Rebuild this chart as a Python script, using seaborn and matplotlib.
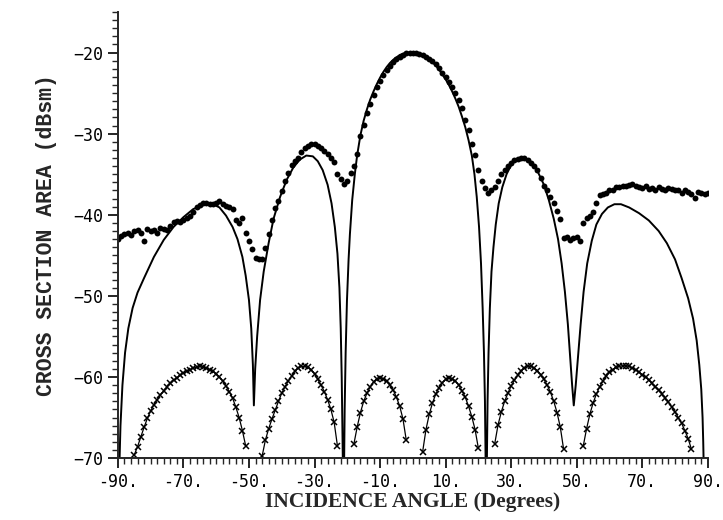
import numpy as np
import pandas as pd
import matplotlib
matplotlib.use("Agg")
import matplotlib.pyplot as plt
import seaborn as sns
from matplotlib.ticker import MultipleLocator

# measured RCS (dots), one point per degree from -90 to 90
angles = np.arange(-90, 91)
measured_db = [
    -43.0, -42.6, -42.4, -42.2, -42.5, -42.0, -41.9, -42.3, -43.2, -41.8,
    -42.0, -41.9, -42.2, -41.6, -41.7, -41.9, -41.4, -40.9, -40.8, -40.9,
    -40.6, -40.4, -40.2, -39.7, -39.1, -38.8, -38.6, -38.6, -38.7, -38.7,
    -38.5, -38.3, -38.7, -38.9, -39.1, -39.3, -40.7, -41.0, -40.4, -42.2,
    -43.2, -44.2, -45.3, -45.5, -45.4, -44.1, -42.4, -40.6, -39.2, -38.3,
    -37.1, -35.8, -34.8, -33.9, -33.4, -33.0, -32.3, -31.8, -31.5, -31.3,
    -31.3, -31.5, -31.8, -32.1, -32.5, -33.0, -33.5, -35.0, -35.6, -36.2,
    -35.8, -34.9, -34.0, -32.5, -30.3, -28.9, -27.5, -26.3, -25.2, -24.3,
    -23.5, -22.8, -22.2, -21.7, -21.2, -20.8, -20.5, -20.3, -20.1, -20.0,
    -20.0, -20.1, -20.2, -20.3, -20.5, -20.8, -21.0, -21.4, -21.9, -22.5,
    -23.0, -23.6, -24.3, -25.0, -25.9, -26.9, -28.3, -29.6, -31.3, -32.6,
    -34.5, -35.8, -36.7, -37.3, -37.0, -36.6, -35.8, -35.0, -34.5, -34.0,
    -33.6, -33.3, -33.1, -33.0, -33.0, -33.3, -33.6, -34.0, -34.5, -35.5,
    -36.4, -37.0, -37.8, -38.6, -39.5, -40.5, -42.9, -42.8, -43.1, -42.9,
    -42.7, -43.2, -41.0, -40.4, -40.1, -39.6, -38.5, -37.6, -37.4, -37.3,
    -37.0, -36.9, -36.6, -36.6, -36.5, -36.4, -36.3, -36.2, -36.4, -36.6,
    -36.7, -36.5, -36.8, -36.7, -36.9, -36.6, -36.8, -36.9, -36.7, -36.8,
    -37.0, -36.9, -37.3, -37.0, -37.2, -37.5, -37.9, -37.2, -37.3, -37.5,
    -37.3,
]

# lower curve (crosses), nan where it drops below the plot
nan = np.nan
cross_db = [
    nan, nan, nan, nan, nan, -69.6, -68.6, -67.4, -66.2, -65.1,
    -64.2, -63.4, -62.8, -62.2, -61.7, -61.2, -60.8, -60.4, -60.1, -59.8,
    -59.5, -59.3, -59.1, -58.9, -58.8, -58.7, -58.8, -58.9, -59.1, -59.3,
    -59.6, -60.0, -60.5, -61.1, -61.8, -62.6, -63.7, -65.0, -66.6, -68.5,
    nan, nan, nan, nan, -69.8, -67.8, -66.4, -65.2, -64.1, -63.0,
    -62.0, -61.2, -60.5, -59.9, -59.3, -58.9, -58.7, -58.7, -58.8, -59.1,
    -59.6, -60.3, -61.0, -61.8, -62.8, -64.0, -65.6, -68.5, nan, nan,
    nan, nan, -68.3, -66.2, -64.4, -63.0, -62.0, -61.2, -60.6, -60.2,
    -60.1, -60.2, -60.5, -61.0, -61.6, -62.5, -63.6, -65.2, -67.8, nan,
    nan, nan, nan, -69.2, -66.5, -64.6, -63.2, -62.1, -61.3, -60.7,
    -60.3, -60.1, -60.2, -60.5, -61.0, -61.7, -62.5, -63.6, -64.9, -66.5,
    -68.8, nan, nan, nan, nan, -68.2, -65.9, -64.3, -63.0, -62.0,
    -61.1, -60.4, -59.8, -59.3, -58.9, -58.7, -58.7, -58.9, -59.2, -59.7,
    -60.3, -61.0, -61.9, -63.0, -64.4, -66.2, -68.9, nan, nan, nan,
    nan, nan, -68.5, -66.4, -64.6, -63.2, -62.1, -61.2, -60.5, -59.9,
    -59.4, -59.1, -58.8, -58.7, -58.6, -58.6, -58.7, -58.9, -59.1, -59.4,
    -59.7, -60.0, -60.4, -60.8, -61.2, -61.6, -62.1, -62.6, -63.1, -63.7,
    -64.3, -65.0, -65.7, -66.6, -67.6, -68.9, nan, nan, nan, nan,
    nan,
]

# theory (solid line)
theory_angle = [
    -89.6, -89.2, -88.6, -87.8, -86.8, -85.5, -84, -82, -79, -76, -73, -70,
    -67, -64, -61, -59, -57, -55, -53.5, -52, -51, -50, -49.3, -48.8, -48.5,
    -48.1, -47.5, -46.6, -45.5, -44, -42.5, -40.5, -38.5, -36.5, -34.5,
    -32.5, -30.5, -29, -27.5, -26, -24.8, -23.8, -23, -22.4, -22, -21.7,
    -21.5, -21.3, -21.2, -21.0, -20.8, -20.5, -20.1, -19.6, -19.2, -18.5,
    -17.7, -17, -16, -15, -14, -13, -12, -11, -10, -9, -8, -7, -6, -5, -4,
    -3, -2, -1, 0, 1, 2, 3, 4, 5, 6, 7, 8, 9, 10, 11, 12, 13, 14, 15, 16,
    17, 18, 18.8, 19.5, 20.2, 20.8, 21.3, 21.7, 22, 22.2, 22.4, 22.6, 22.8,
    23.1, 23.5, 24, 24.6, 25.3, 26.2, 27.3, 28.6, 30.2, 32, 34, 36, 38, 40,
    41.5, 43, 44.3, 45.4, 46.4, 47.3, 48, 48.6, 49.1, 49.7, 50.4, 51.2,
    52.1, 53.2, 54.6, 56, 57.7, 59.5, 61.5, 63.5, 66, 69, 72, 75, 77.5, 80,
    82, 84, 85.5, 86.6, 87.4, 88, 88.4, 88.6, 88.8,
]
theory_db = [
    -72, -66, -61, -57, -54, -51.5, -49.6, -47.8, -45.2, -43.1, -41.5, -40.3,
    -39.3, -38.8, -38.7, -39.1, -40.1, -41.5, -43, -45.2, -47.5, -50.5, -54,
    -58.5, -63.5, -59, -55, -50.5, -47, -43.5, -40.5, -37.8, -35.7, -34.2,
    -33.2, -32.7, -32.8, -33.4, -34.5, -36.3, -38.6, -41.5, -44.8, -49, -54,
    -60, -66, -72, -80, -72, -64, -57, -50.6, -45.5, -42.4, -38.2, -35,
    -32.7, -30.2, -28.4, -27, -25.8, -24.8, -23.9, -23.1, -22.4, -21.8,
    -21.3, -20.9, -20.6, -20.3, -20.15, -20.05, -20, -20, -20.05, -20.15,
    -20.3, -20.5, -20.8, -21.2, -21.6, -22.1, -22.7, -23.3, -24, -24.8,
    -25.7, -26.7, -27.9, -29.2, -30.8, -32.7, -35, -37.8, -41.5, -46, -51.5,
    -57, -63, -70, -80, -70, -63, -57, -51.5, -47, -44, -41.2, -38.6, -36.6,
    -35, -33.7, -33.1, -33, -33.5, -34.6, -36.3, -38.2, -40.5, -43, -46,
    -49.5, -53.5, -57.5, -61, -63.5, -61, -57.5, -53.5, -49.5, -46, -43.2,
    -41.2, -39.9, -39.1, -38.7, -38.7, -39.1, -39.8, -40.7, -42, -43.5,
    -45.5, -47.8, -50.3, -52.8, -55.5, -58.5, -61.5, -65, -68, -72,
]

x_ticks = [-90, -70, -50, -30, -10, 10, 30, 50, 70, 90]
x_tick_labels = ["-90.", "-70.", "-50.", "-30.", "-10.", "10.", "30.", "50.", "70.", "90."]
y_ticks = [-70, -60, -50, -40, -30, -20]

df_meas = pd.DataFrame({"angle": angles, "db": measured_db})
df_cross = pd.DataFrame({"angle": angles, "db": cross_db})
df_cross["lobe"] = df_cross["db"].isna().cumsum()
df_cross = df_cross.dropna()
df_theory = pd.DataFrame({"angle": theory_angle, "db": theory_db})

sns.set_style("ticks")

fig = plt.figure(figsize=(7.23, 5.20), dpi=100)
ax = fig.add_axes([0.163, 0.119, 0.816, 0.858])

sns.lineplot(data=df_theory, x="angle", y="db", color="black", linewidth=1.4,
             sort=False, ax=ax)
sns.scatterplot(data=df_meas, x="angle", y="db", color="black", s=18,
                edgecolor="black", linewidth=0, ax=ax)
sns.lineplot(data=df_cross, x="angle", y="db", units="lobe", estimator=None,
             color="black", linewidth=0.9, marker="x", markersize=4.5,
             markeredgewidth=1.1, markeredgecolor="black", ax=ax)

ax.set_xlim(-90, 90)
ax.set_ylim(-70, -15)
ax.set_xticks(x_ticks)
ax.set_xticklabels(x_tick_labels)
ax.set_yticks(y_ticks)
ax.xaxis.set_minor_locator(MultipleLocator(2))
ax.yaxis.set_minor_locator(MultipleLocator(1))
ax.tick_params(axis="both", which="major", length=7, width=1.2, direction="out",
               labelsize=12, colors="black")
ax.tick_params(axis="both", which="minor", length=4, width=1.0, direction="out")
for lab in ax.get_xticklabels() + ax.get_yticklabels():
    lab.set_family("DejaVu Sans Mono")

sns.despine(ax=ax)
ax.spines["left"].set_linewidth(1.4)
ax.spines["bottom"].set_linewidth(1.4)

ax.set_xlabel("INCIDENCE ANGLE (Degrees)", fontsize=15.5, fontweight="bold",
              family="Liberation Serif", labelpad=1)
ax.set_ylabel("CROSS SECTION AREA (dBsm)", fontsize=15.5, fontweight="bold",
              family="Liberation Mono", labelpad=12)

fig.savefig("out.png", dpi=100)
